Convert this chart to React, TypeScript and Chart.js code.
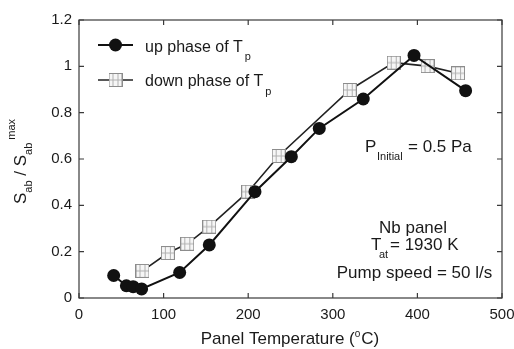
import React, { useEffect, useRef } from "react";
import { Chart, registerables } from "chart.js";

Chart.register(...registerables);

// ---- data ----
const upTemp = [41, 56, 64, 74, 119, 154, 208, 251, 284, 336, 396, 457];
const upRatio = [0.097, 0.053, 0.049, 0.039, 0.11, 0.229, 0.459, 0.61, 0.732, 0.859, 1.047, 0.895];
const downTemp = [75, 105, 128, 154, 200, 236, 320, 372, 412, 448];
const downRatio = [0.117, 0.194, 0.234, 0.308, 0.459, 0.613, 0.898, 1.016, 1.001, 0.97];
const xTickValues = [0, 100, 200, 300, 400, 500];
const yTickValues = [0, 0.2, 0.4, 0.6, 0.8, 1, 1.2];
const legendLabels = ["up phase of T", "down phase of T"];
const legendSub = "p";

const FONT = "'Liberation Sans', Arial, Helvetica, sans-serif";
const TEXT = "#1a1a1a";

function makeSquare(): HTMLCanvasElement {
  const c = document.createElement("canvas");
  c.width = 14;
  c.height = 14;
  const g = c.getContext("2d")!;
  g.fillStyle = "#f6f6f6";
  g.fillRect(0.5, 0.5, 13, 13);
  g.strokeStyle = "#8c8c8c";
  g.lineWidth = 1;
  g.strokeRect(0.5, 0.5, 13, 13);
  g.strokeStyle = "#b0b0b0";
  g.beginPath();
  g.moveTo(4.5, 1);
  g.lineTo(4.5, 13);
  g.moveTo(9.5, 1);
  g.lineTo(9.5, 13);
  g.moveTo(1, 7);
  g.lineTo(13, 7);
  g.stroke();
  return c;
}

function txt(ctx: CanvasRenderingContext2D, s: string, x: number, y: number, size: number, align: CanvasTextAlign = "left") {
  ctx.font = `${size}px ${FONT}`;
  ctx.textAlign = align;
  ctx.textBaseline = "alphabetic";
  ctx.fillStyle = TEXT;
  ctx.fillText(s, x, y);
}

export default function App() {
  const ref = useRef<HTMLCanvasElement | null>(null);

  useEffect(() => {
    const canvas = ref.current;
    if (!canvas) return;
    const square = makeSquare();

    const overlay = {
      id: "overlay",
      beforeDatasetsDraw(chart: any) {
        const ctx: CanvasRenderingContext2D = chart.ctx;
        const a = chart.chartArea;
        const xs = chart.scales.x;
        const ys = chart.scales.y;
        ctx.save();
        ctx.strokeStyle = "#3a3a3a";
        ctx.lineWidth = 1.2;
        ctx.strokeRect(a.left, a.top, a.right - a.left, a.bottom - a.top);
        ctx.beginPath();
        const tl = 5;
        xTickValues.forEach((v) => {
          const px = xs.getPixelForValue(v);
          ctx.moveTo(px, a.bottom);
          ctx.lineTo(px, a.bottom - tl);
          ctx.moveTo(px, a.top);
          ctx.lineTo(px, a.top + tl);
        });
        yTickValues.forEach((v) => {
          const py = ys.getPixelForValue(v);
          ctx.moveTo(a.left, py);
          ctx.lineTo(a.left + tl, py);
          ctx.moveTo(a.right, py);
          ctx.lineTo(a.right - tl, py);
        });
        ctx.stroke();
        ctx.restore();
      },
      afterDraw(chart: any) {
        const ctx: CanvasRenderingContext2D = chart.ctx;
        ctx.save();
        // legend
        const lx0 = 98, lx1 = 133, mx = 115.5;
        const rows = [45, 80];
        ctx.strokeStyle = "#111";
        ctx.lineWidth = 2;
        ctx.beginPath();
        ctx.moveTo(lx0, rows[0]);
        ctx.lineTo(lx1, rows[0]);
        ctx.stroke();
        ctx.fillStyle = "#111";
        ctx.beginPath();
        ctx.arc(mx, rows[0], 6.5, 0, Math.PI * 2);
        ctx.fill();
        ctx.strokeStyle = "#222";
        ctx.lineWidth = 1.6;
        ctx.beginPath();
        ctx.moveTo(lx0, rows[1]);
        ctx.lineTo(lx1, rows[1]);
        ctx.stroke();
        ctx.drawImage(square, mx - 7, rows[1] - 7);

        txt(ctx, legendLabels[0], 145, 52, 16);
        ctx.font = `16px ${FONT}`;
        let w = ctx.measureText(legendLabels[0]).width;
        txt(ctx, legendSub, 145 + w + 2, 60, 11);
        txt(ctx, legendLabels[1], 145, 86, 16);
        ctx.font = `16px ${FONT}`;
        w = ctx.measureText(legendLabels[1]).width;
        txt(ctx, legendSub, 145 + w + 2, 95, 11);

        // annotations
        txt(ctx, "P", 365, 152, 17);
        txt(ctx, "Initial", 377, 160, 11);
        txt(ctx, "= 0.5 Pa", 408, 152, 17);

        txt(ctx, "Nb panel", 413, 233, 17, "center");
        txt(ctx, "T", 371, 250, 17);
        txt(ctx, "at", 379, 258, 11);
        txt(ctx, "= 1930 K", 390, 250, 17);
        txt(ctx, "Pump speed = 50 l/s", 414.5, 278, 17, "center");

        // x title
        const p1 = "Panel Temperature (";
        const p3 = "C)";
        ctx.font = `17px ${FONT}`;
        const w1 = ctx.measureText(p1).width;
        const w3 = ctx.measureText(p3).width;
        ctx.font = `10px ${FONT}`;
        const w2 = ctx.measureText("o").width;
        const total = w1 + w2 + 1 + w3;
        const sx = 290 - total / 2;
        txt(ctx, p1, sx, 344, 17);
        txt(ctx, "o", sx + w1, 337, 10);
        txt(ctx, p3, sx + w1 + w2 + 1, 344, 17);

        // y title (rotated)
        ctx.translate(26, 204);
        ctx.rotate(-Math.PI / 2);
        let cx = 0;
        const seg = (s: string, size: number, dy: number, gap = 0) => {
          txt(ctx, s, cx, dy, size);
          ctx.font = `${size}px ${FONT}`;
          cx += ctx.measureText(s).width + gap;
        };
        seg("S", 17, 0);
        seg("ab", 11, 6);
        seg(" / ", 17, 0);
        seg("S", 17, 0);
        seg("ab", 11, 6, 3);
        seg("max", 11, -11);
        ctx.restore();
      },
    };

    const chart = new Chart(canvas, {
      type: "line",
      data: {
        datasets: [
          {
            label: legendLabels[0],
            data: upTemp.map((t, i) => ({ x: t, y: upRatio[i] })),
            borderColor: "#111",
            backgroundColor: "#111",
            borderWidth: 2,
            pointRadius: 6.5,
            pointStyle: "circle",
            pointBackgroundColor: "#111",
            pointBorderColor: "#111",
            pointBorderWidth: 0,
            tension: 0,
          },
          {
            label: legendLabels[1],
            data: downTemp.map((t, i) => ({ x: t, y: downRatio[i] })),
            borderColor: "#222",
            backgroundColor: "#fff",
            borderWidth: 1.6,
            pointStyle: square as any,
            pointRadius: 7,
            tension: 0,
          },
        ],
      },
      options: {
        responsive: false,
        animation: false,
        layout: { padding: { top: 20, right: 12, bottom: 0, left: 0 } },
        plugins: {
          legend: { display: false },
          tooltip: { enabled: false },
          title: { display: false },
        },
        scales: {
          x: {
            type: "linear",
            min: 0,
            max: 500,
            afterBuildTicks: (s: any) => {
              s.ticks = xTickValues.map((v) => ({ value: v }));
            },
            afterFit: (s: any) => {
              s.height = 51;
              s.paddingLeft = 0;
              s.paddingRight = 0;
            },
            grid: { display: false, drawTicks: false, tickLength: 0 },
            border: { display: false },
            ticks: {
              padding: 8,
              color: TEXT,
              font: { family: FONT, size: 15 },
              maxRotation: 0,
              callback: (v: any) => String(v),
            },
          },
          y: {
            type: "linear",
            min: 0,
            max: 1.2,
            afterBuildTicks: (s: any) => {
              s.ticks = yTickValues.map((v) => ({ value: v }));
            },
            afterFit: (s: any) => {
              s.width = 79;
              s.paddingTop = 0;
              s.paddingBottom = 0;
            },
            grid: { display: false, drawTicks: false, tickLength: 0 },
            border: { display: false },
            ticks: {
              padding: 7,
              color: TEXT,
              font: { family: FONT, size: 15 },
              callback: (v: any) => String(Math.round(Number(v) * 10) / 10),
            },
          },
        },
      },
      plugins: [overlay],
    } as any);

    return () => chart.destroy();
  }, []);

  return (
    <div style={{ position: "absolute", left: 0, top: 0, width: 514, height: 349, background: "#fff" }}>
      <canvas ref={ref} width={514} height={349} style={{ display: "block" }} />
    </div>
  );
}
